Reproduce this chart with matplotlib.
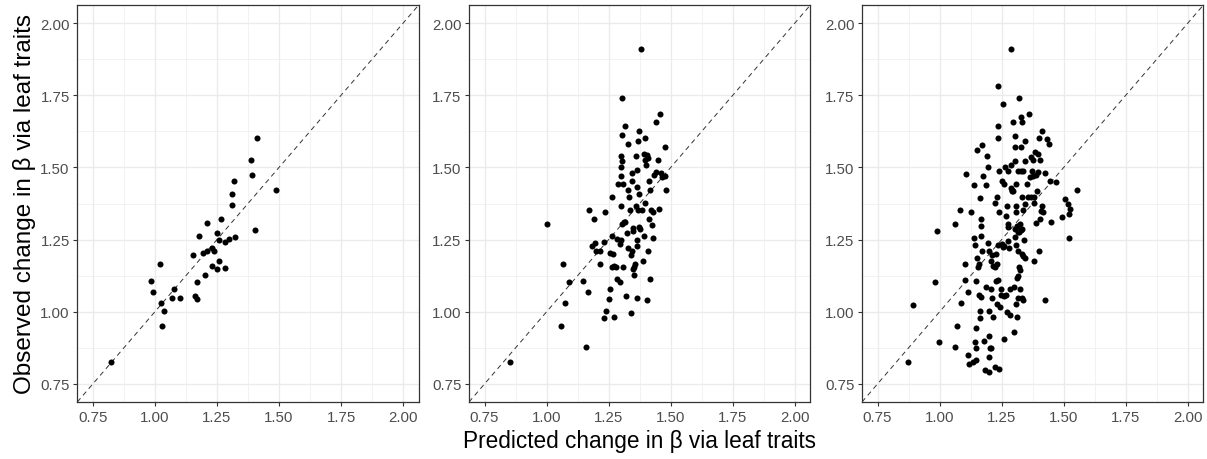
import numpy as np
import matplotlib
matplotlib.use('Agg')
import matplotlib.pyplot as plt
from matplotlib.ticker import MultipleLocator

plt.rcParams['font.family'] = ['Liberation Sans', 'DejaVu Sans']

# panel 1: (predicted, observed)
p1_x = [0.824, 0.983, 0.991, 1.020, 1.026, 1.030, 1.038, 1.069, 1.077, 1.103,
        1.153, 1.161, 1.168, 1.168, 1.176, 1.192, 1.203, 1.208, 1.208, 1.228,
        1.230, 1.239, 1.250, 1.250, 1.258, 1.259, 1.266, 1.281, 1.281, 1.297,
        1.309, 1.309, 1.320, 1.324, 1.386, 1.390, 1.402, 1.410, 1.487]
p1_y = [0.826, 1.106, 1.068, 1.166, 1.032, 0.950, 1.003, 1.046, 1.078, 1.046,
        1.196, 1.054, 1.043, 1.102, 1.263, 1.202, 1.128, 1.209, 1.306, 1.220,
        1.160, 1.209, 1.149, 1.273, 1.248, 1.177, 1.323, 1.153, 1.243, 1.251,
        1.369, 1.407, 1.454, 1.258, 1.524, 1.474, 1.284, 1.603, 1.422]

# panel 2
p2_x = [0.852, 1.003, 1.058, 1.065, 1.073, 1.089, 1.147, 1.157, 1.165, 1.169,
        1.184, 1.190, 1.194, 1.200, 1.216, 1.216, 1.230, 1.232, 1.235, 1.240,
        1.251, 1.254, 1.255, 1.263, 1.263, 1.267, 1.265, 1.270, 1.272, 1.280,
        1.282, 1.284, 1.286, 1.294, 1.297, 1.298, 1.298, 1.298, 1.300, 1.300,
        1.302, 1.302, 1.302, 1.304, 1.306, 1.308, 1.310, 1.315, 1.317, 1.321,
        1.325, 1.326, 1.328, 1.329, 1.333, 1.337, 1.340, 1.341, 1.343, 1.343,
        1.346, 1.347, 1.349, 1.349, 1.351, 1.354, 1.357, 1.359, 1.361, 1.364,
        1.366, 1.366, 1.366, 1.366, 1.368, 1.370, 1.371, 1.374, 1.374, 1.378,
        1.379, 1.386, 1.390, 1.391, 1.394, 1.395, 1.395, 1.398, 1.399, 1.405,
        1.405, 1.407, 1.409, 1.411, 1.414, 1.415, 1.418, 1.421, 1.425, 1.428,
        1.430, 1.434, 1.440, 1.442, 1.448, 1.452, 1.457, 1.459, 1.465, 1.476,
        1.477, 1.480]
p2_y = [0.826, 1.305, 0.950, 1.164, 1.032, 1.102, 1.106, 0.879, 1.068, 1.352,
        1.228, 1.320, 1.237, 1.209, 1.209, 1.166, 1.240, 0.979, 1.345, 1.004,
        1.045, 1.078, 1.202, 1.397, 1.263, 1.199, 1.154, 0.982, 1.159, 1.156,
        1.251, 1.115, 1.443, 1.233, 1.104, 1.367, 1.501, 1.539, 1.247, 1.471,
        1.741, 1.611, 1.521, 1.305, 1.156, 1.441, 1.310, 1.312, 1.642, 1.054,
        1.273, 1.220, 1.582, 1.422, 1.397, 1.352, 0.996, 1.195, 1.482, 1.209,
        1.454, 1.291, 1.281, 1.147, 1.154, 1.128, 1.164, 1.539, 1.368, 1.046,
        1.247, 1.431, 1.492, 1.227, 1.593, 1.352, 1.627, 1.408, 1.295, 1.286,
        1.911, 1.352, 1.177, 1.546, 1.264, 1.376, 1.603, 1.524, 1.508, 1.041,
        1.544, 1.209, 1.534, 1.454, 1.322, 1.422, 1.115, 1.352, 1.301, 1.257,
        1.345, 1.474, 1.656, 1.483, 1.524, 1.355, 1.685, 1.482, 1.466, 1.570,
        1.469, 1.422]

# panel 3
p3_x = [0.872, 0.894, 0.980, 0.988, 0.999, 1.064, 1.064, 1.070, 1.083, 1.088,
        1.103, 1.104, 1.107, 1.114, 1.114, 1.118, 1.126, 1.134, 1.140, 1.140,
        1.142, 1.144, 1.146, 1.146, 1.146, 1.147, 1.149, 1.151, 1.154, 1.159,
        1.160, 1.162, 1.162, 1.164, 1.166, 1.167, 1.168, 1.168, 1.171, 1.172,
        1.174, 1.178, 1.183, 1.185, 1.187, 1.189, 1.194, 1.195, 1.198, 1.200,
        1.200, 1.200, 1.201, 1.205, 1.206, 1.206, 1.209, 1.213, 1.213, 1.215,
        1.217, 1.222, 1.223, 1.223, 1.226, 1.227, 1.230, 1.231, 1.233, 1.234,
        1.234, 1.235, 1.235, 1.237, 1.238, 1.238, 1.241, 1.243, 1.246, 1.247,
        1.251, 1.251, 1.254, 1.257, 1.258, 1.261, 1.261, 1.261, 1.265, 1.267,
        1.269, 1.270, 1.273, 1.274, 1.274, 1.275, 1.276, 1.281, 1.283, 1.285,
        1.287, 1.289, 1.289, 1.290, 1.293, 1.295, 1.297, 1.298, 1.299, 1.302,
        1.302, 1.303, 1.305, 1.305, 1.306, 1.307, 1.308, 1.309, 1.309, 1.311,
        1.311, 1.313, 1.314, 1.314, 1.314, 1.315, 1.316, 1.318, 1.320, 1.321,
        1.322, 1.324, 1.325, 1.326, 1.328, 1.329, 1.329, 1.330, 1.332, 1.333,
        1.333, 1.333, 1.334, 1.335, 1.337, 1.337, 1.338, 1.342, 1.342, 1.344,
        1.345, 1.354, 1.358, 1.362, 1.364, 1.369, 1.370, 1.374, 1.375, 1.377,
        1.380, 1.381, 1.382, 1.385, 1.388, 1.389, 1.392, 1.396, 1.398, 1.400,
        1.402, 1.404, 1.406, 1.409, 1.412, 1.413, 1.416, 1.424, 1.424, 1.434,
        1.440, 1.445, 1.449, 1.469, 1.493, 1.505, 1.519, 1.520, 1.521, 1.524,
        1.555]
p3_y = [0.826, 1.023, 1.102, 1.280, 0.894, 0.879, 1.305, 0.950, 1.352, 1.032,
        1.110, 1.164, 1.476, 1.068, 0.850, 0.819, 1.345, 0.827, 1.440, 1.255,
        1.232, 0.897, 0.876, 0.943, 0.833, 1.107, 1.560, 1.186, 1.154, 1.166,
        1.058, 0.980, 1.004, 1.393, 1.262, 1.052, 1.296, 1.320, 1.209, 1.578,
        1.471, 0.900, 0.800, 1.087, 1.440, 1.539, 1.500, 1.237, 1.001, 0.790,
        1.209, 0.844, 0.915, 0.876, 1.177, 0.874, 1.078, 1.198, 1.046, 0.982,
        1.159, 0.810, 1.156, 1.378, 1.105, 1.201, 1.165, 1.026, 1.397, 1.601,
        1.642, 1.109, 1.232, 1.781, 1.486, 1.345, 0.802, 1.017, 1.078, 1.058,
        1.454, 1.235, 1.226, 1.720, 1.053, 1.444, 0.904, 1.229, 1.501, 1.058,
        1.330, 0.998, 1.368, 1.305, 1.246, 1.486, 1.293, 1.220, 0.990, 1.078,
        1.430, 1.507, 1.911, 1.422, 1.420, 1.656, 1.420, 1.087, 0.930, 1.610,
        1.521, 1.571, 1.288, 1.258, 1.026, 1.232, 1.444, 1.368, 1.345, 0.982,
        1.116, 1.298, 1.278, 1.124, 1.211, 1.489, 1.046, 1.741, 1.156, 1.278,
        1.145, 1.303, 1.078, 1.488, 1.673, 1.283, 1.571, 1.199, 1.049, 1.656,
        1.398, 1.286, 1.042, 1.192, 1.486, 1.352, 1.249, 1.186, 1.521, 1.592,
        1.375, 1.443, 1.398, 1.685, 1.466, 1.536, 1.396, 1.486, 1.525, 1.470,
        1.177, 1.376, 1.397, 1.555, 1.474, 1.308, 1.420, 1.546, 1.483, 1.209,
        1.601, 1.524, 1.322, 1.348, 1.627, 1.368, 1.347, 1.042, 1.482, 1.598,
        1.581, 1.452, 1.311, 1.448, 1.327, 1.392, 1.372, 1.340, 1.255, 1.355,
        1.421]

panels = [(p1_x, p1_y), (p2_x, p2_y), (p3_x, p3_y)]
ticks = [0.75, 1.00, 1.25, 1.50, 1.75, 2.00]
lims = (0.6875, 2.0625)

W, H = 1207, 460
fig = plt.figure(figsize=(W / 100, H / 100), dpi=100)
lefts = [77.3, 469.0, 862.0]
bottom, top = 403.0, 6.0
width = 341.4

axes = []
for left, (xs, ys) in zip(lefts, panels):
    ax = fig.add_axes([left / W, 1 - bottom / H, width / W, (bottom - top) / H])
    ax.set_xlim(lims)
    ax.set_ylim(lims)
    ax.xaxis.set_minor_locator(MultipleLocator(0.125))
    ax.yaxis.set_minor_locator(MultipleLocator(0.125))
    ax.set_xticks(ticks)
    ax.set_yticks(ticks)
    ax.set_xticklabels([f"{t:.2f}" for t in ticks])
    ax.set_yticklabels([f"{t:.2f}" for t in ticks])
    ax.grid(True, which='major', color='#EBEBEB', linewidth=1.0)
    ax.grid(True, which='minor', color='#F0F0F0', linewidth=0.6)
    ax.set_axisbelow(True)
    ax.tick_params(which='major', direction='out', length=3, width=0.8,
                   color='#333333', labelcolor='#4D4D4D', labelsize=10.8, pad=2.5)
    ax.tick_params(which='minor', length=0)
    for s in ax.spines.values():
        s.set_color('#333333')
        s.set_linewidth(0.9)
    ax.plot(lims, lims, color='#333333', linewidth=0.7, dashes=(5, 4), zorder=2)
    ax.scatter(xs, ys, s=19, color='black', linewidths=0, zorder=3)
    axes.append(ax)

axes[0].set_ylabel("Observed change in \u03b2 via leaf traits", fontsize=17.5, labelpad=3)
axes[1].set_xlabel("Predicted change in \u03b2 via leaf traits", fontsize=16.3, labelpad=4)

fig.savefig('out.png', dpi=100)
